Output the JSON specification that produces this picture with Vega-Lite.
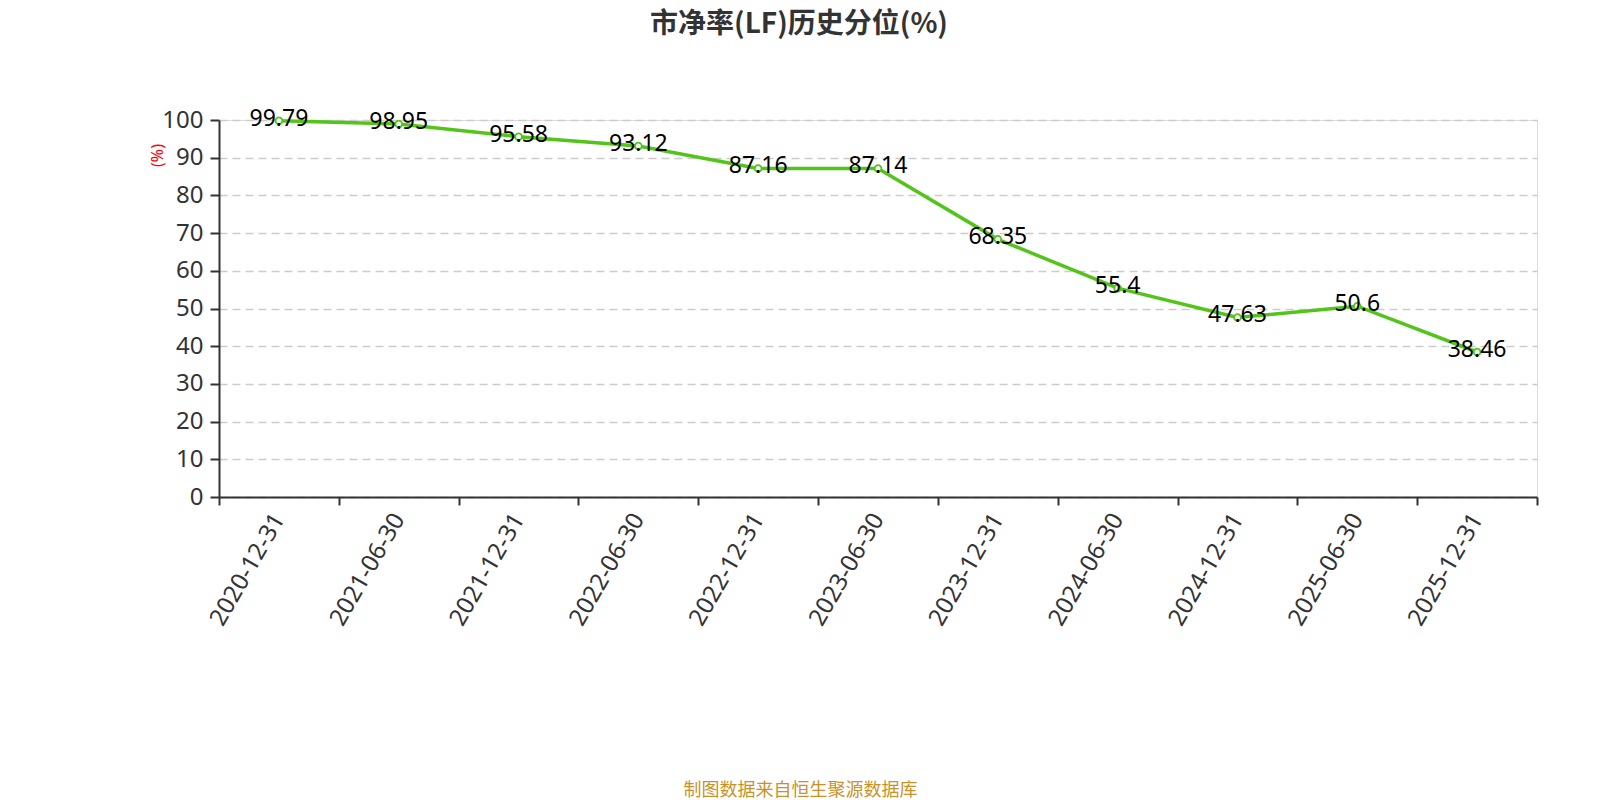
{
  "$schema": "https://vega.github.io/schema/vega-lite/v6.json",
  "width": 1318,
  "height": 377,
  "autosize": {"type": "none"},
  "padding": {"left": 219, "top": 120, "right": 63, "bottom": 303},
  "background": "white",
  "title": {
    "text": "市净率(LF)历史分位(%)",
    "anchor": "middle",
    "font": "Noto Sans CJK SC",
    "fontSize": 28,
    "fontWeight": "bold",
    "color": "#333333",
    "baseline": "middle",
    "offset": 55,
    "dx": -79
  },
  "data": {
    "values": [
      {"date": "2020-12-31", "pct": 99.79},
      {"date": "2021-06-30", "pct": 98.95},
      {"date": "2021-12-31", "pct": 95.58},
      {"date": "2022-06-30", "pct": 93.12},
      {"date": "2022-12-31", "pct": 87.16},
      {"date": "2023-06-30", "pct": 87.14},
      {"date": "2023-12-31", "pct": 68.35},
      {"date": "2024-06-30", "pct": 55.4},
      {"date": "2024-12-31", "pct": 47.63},
      {"date": "2025-06-30", "pct": 50.6},
      {"date": "2025-12-31", "pct": 38.46}
    ]
  },
  "encoding": {
    "x": {
      "field": "date",
      "type": "ordinal",
      "sort": null,
      "scale": {"type": "band", "paddingInner": 0, "paddingOuter": 0},
      "axis": {
        "title": "制图数据来自恒生聚源数据库",
        "titleFont": "Noto Sans CJK SC",
        "titleFontSize": 18,
        "titleFontWeight": "normal",
        "titleColor": "#c8922a",
        "titleX": 581,
        "titleY": 293,
        "titleBaseline": "middle",
        "titleAnchor": "middle",
        "labelAngle": -60,
        "labelAlign": "right",
        "labelBaseline": "middle",
        "labelFont": "Noto Sans",
        "labelFontSize": 24,
        "labelColor": "#333333",
        "labelPadding": 10,
        "tickBand": "extent",
        "tickSize": 8,
        "tickWidth": 2,
        "tickColor": "#333333",
        "domainColor": "#333333",
        "domainWidth": 2,
        "grid": false
      }
    },
    "y": {
      "field": "pct",
      "type": "quantitative",
      "scale": {"domain": [0, 100], "nice": false},
      "axis": {
        "title": "(%)",
        "titleFont": "Noto Sans",
        "titleFontSize": 16,
        "titleFontWeight": "normal",
        "titleColor": "red",
        "titleX": -62,
        "titleY": 35,
        "titleAngle": 270,
        "titleBaseline": "middle",
        "titleAlign": "center",
        "values": [0, 10, 20, 30, 40, 50, 60, 70, 80, 90, 100],
        "labelFont": "Noto Sans",
        "labelFontSize": 24,
        "labelColor": "#333333",
        "labelPadding": 7,
        "tickSize": 9,
        "tickWidth": 2,
        "tickColor": "#333333",
        "domainColor": "#333333",
        "domainWidth": 2,
        "grid": true,
        "gridColor": "#cccccc",
        "gridDash": [8, 5],
        "gridWidth": 1.5
      }
    }
  },
  "layer": [
    {
      "mark": {"type": "line", "color": "#52c41a", "strokeWidth": 3.5}
    },
    {
      "mark": {
        "type": "point",
        "filled": true,
        "fill": "white",
        "stroke": "#52c41a",
        "strokeWidth": 1.8,
        "size": 45,
        "opacity": 1
      }
    },
    {
      "mark": {
        "type": "text",
        "font": "Noto Sans",
        "fontSize": 23,
        "color": "black",
        "align": "center",
        "baseline": "middle",
        "dy": -2
      },
      "encoding": {"text": {"field": "pct", "type": "quantitative"}}
    }
  ]
}
